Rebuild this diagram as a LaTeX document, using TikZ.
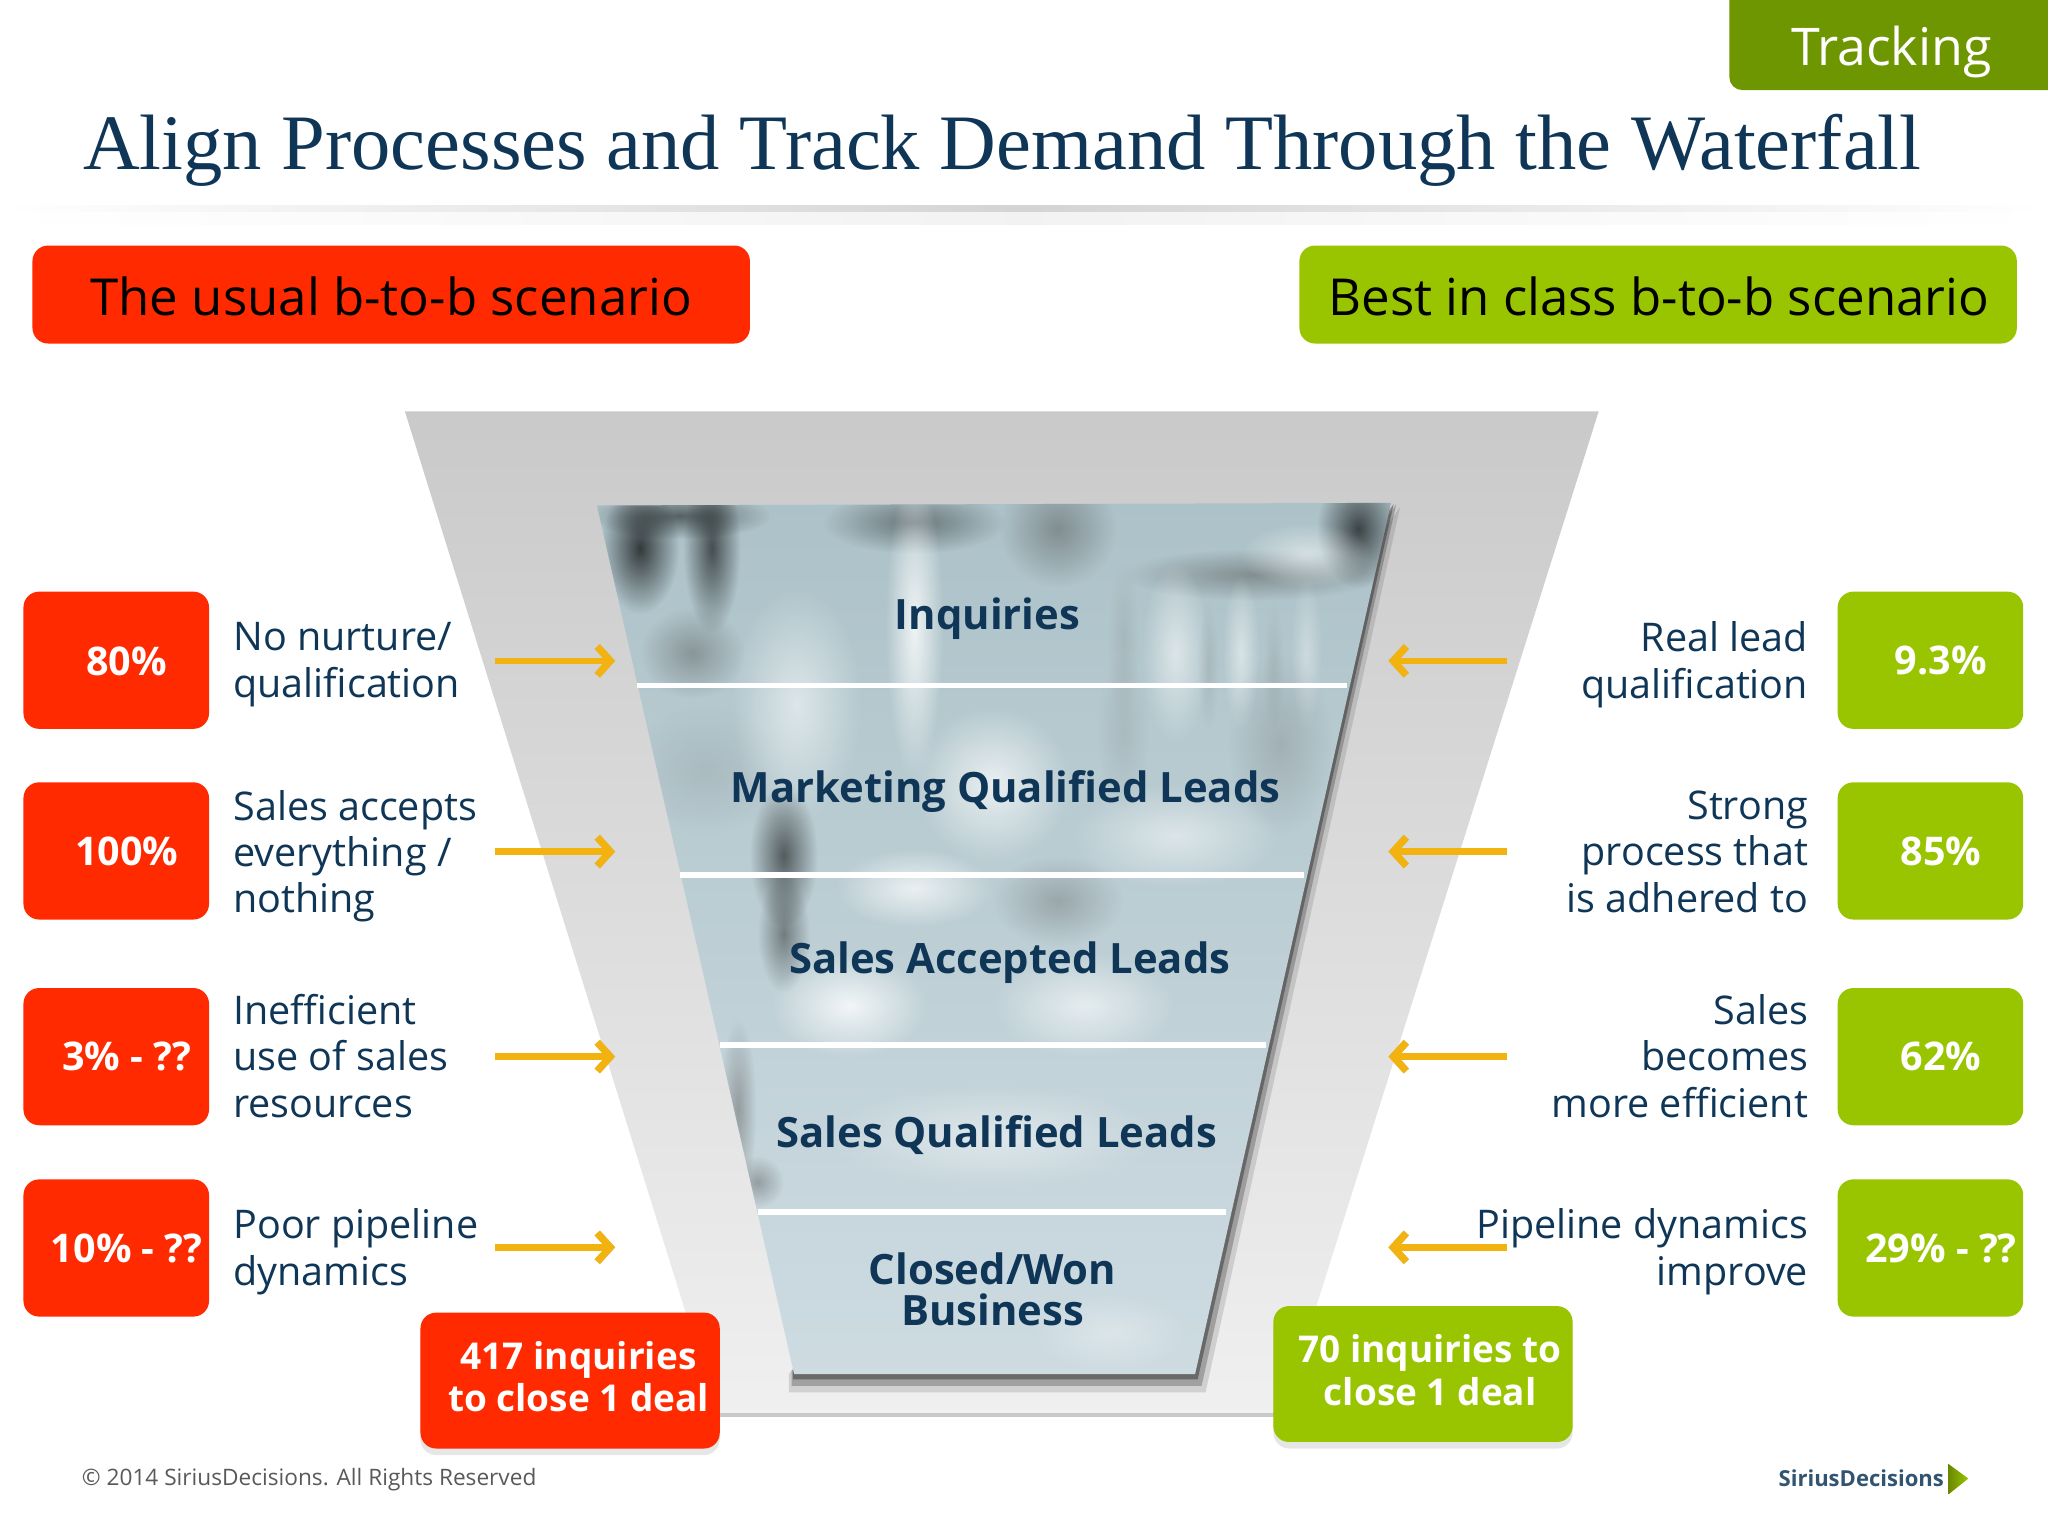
\documentclass[tikz,border=0pt]{standalone}
\usepackage{fontspec}
\setmainfont{Open Sans}
\newfontfamily\titlefont{Liberation Serif}
\usetikzlibrary{arrows.meta,shadows,fadings}

\definecolor{boxred}{HTML}{FF2A00}
\definecolor{boxgreen}{HTML}{99C400}
\definecolor{tabgreen}{HTML}{6E9600}
\definecolor{navy}{HTML}{0F3657}
\definecolor{arrowyellow}{HTML}{F2B20F}

\tikzfading[name = softblob, inner color = transparent!0, outer color = transparent!100]

\tikzset{
    softshade/.style = {drop shadow = {shadow xshift = 0pt, shadow yshift = -0.5mm, opacity = 0.2}},
    redbox/.style = {fill = boxred, rounded corners = 1.2mm},
    greenbox/.style = {fill = boxgreen, rounded corners = 1.2mm},
    pctbox/.style = {minimum width = 14.2mm, minimum height = 10.5mm, inner sep = 0pt},
    scenariobox/.style = {minimum width = 54.9mm, minimum height = 7.5mm, inner sep = 0pt},
    totalbox/.style = {minimum width = 22.9mm, minimum height = 10.4mm, inner sep = 0pt, softshade},
    pcttext/.style = {text = white, font = \fontsize{8.6}{10}\selectfont\bfseries, inner sep = 0pt},
    totaltext/.style = {text = white, font = \fontsize{8.05}{9.2}\selectfont\bfseries, inner sep = 0pt, align = center},
    scenariotext/.style = {text = black, font = \fontsize{11.1}{13}\selectfont, inner sep = 0pt},
    lefttext/.style = {text = navy, font = \fontsize{8.6}{10.1}\selectfont, anchor = west, align = left, inner sep = 0pt},
    righttext/.style = {text = navy, font = \fontsize{8.6}{10.1}\selectfont, anchor = east, align = right, inner sep = 0pt},
    stagetext/.style = {text = navy, font = \fontsize{9.1}{9}\selectfont\bfseries, align = center, inner sep = 0pt},
    flowarrow/.style = {draw = arrowyellow, line width = 0.5mm, -{Straight Barb[length = 1mm, width = 2.2mm, line width = 0.55mm]}},
    arrowshade/.style = {draw = black!22, line width = 0.5mm, -{Straight Barb[length = 1mm, width = 2.2mm, line width = 0.55mm]}, yshift = -0.3mm},
    divider/.style = {draw = white, line width = 0.4mm}
}

\begin{document}
\begin{tikzpicture}[x = 0.01cm, y = -0.01cm]
    \useasboundingbox (0, 0) rectangle (1568, 1176);

    % header
    \fill[tabgreen, rounded corners = 1mm] (1568, -20) -- (1324, -20) -- (1324, 69) -- (1590, 69) -- cycle;
    \node[text = white, font = \fontsize{11.3}{13}\selectfont, inner sep = 0pt] (tab) at (1448, 40) {Tracking};
    \node[text = navy, font = \fontsize{17.1}{20}\titlefont, anchor = west, inner sep = 0pt] (title) at (63, 115)
        {Align Processes and Track Demand Through the Waterfall};
    \shade[left color = white, right color = white, middle color = black!17] (0, 157) rectangle (1568, 163);
    \shade[left color = white, right color = white, middle color = black!5] (0, 163) rectangle (1568, 172);

    \node[redbox, scenariobox] (usual) at (299.5, 225.5) {};
    \node[scenariotext] (usualtext) at (299.5, 227) {The usual b-to-b scenario};
    \node[greenbox, scenariobox] (best) at (1269.5, 225.5) {};
    \node[scenariotext] (besttext) at (1270, 227) {Best in class b-to-b scenario};

    % outer funnel
    \shade[top color = black!21, bottom color = black!6] (310, 315) -- (1224, 315) -- (982, 1082) -- (549, 1082) -- cycle;
    \fill[black!30, opacity = 0.7] (549, 1082) rectangle (982, 1085);

    % waterfall
    \fill[black!70, opacity = 0.18] (1072, 388) -- (923, 1066) -- (604, 1066) -- (604, 1052) -- cycle;
    \fill[black!80, opacity = 0.3] (1069, 386) -- (920, 1061) -- (606, 1061) -- (606, 1050) -- cycle;
    \fill[black!80, opacity = 0.5] (1067, 386) -- (917, 1056) -- (607, 1056) -- (607, 1050) -- cycle;
    \begin{scope}
        \clip (457, 387) -- (1065, 385) -- (915, 1052) -- (608, 1052) -- cycle;
        \shade[top color = {rgb,255:red,172;green,194;blue,200}, middle color = {rgb,255:red,212;green,227;blue,231},
            bottom color = {rgb,255:red,206;green,220;blue,226}] (440, 380) rectangle (1080, 1060);
        \foreach \px/\py/\wd/\ht/\shadecol/\op in {
            490/420/30/50/black/0.7, 545/420/22/65/black/0.6, 520/395/70/18/black/0.5,
            700/400/70/24/black/0.4, 810/405/45/45/black!70/0.45, 1040/405/32/45/black/0.65,
            960/440/100/20/black!70/0.45, 1000/425/50/25/white/0.5, 530/500/40/35/black!70/0.4,
            540/590/60/50/black!60/0.15, 700/480/22/120/white/0.8, 610/540/50/90/white/0.55,
            900/500/26/70/white/0.55, 950/500/14/60/white/0.5, 1000/500/12/60/white/0.35,
            860/490/12/60/black!50/0.2, 925/510/8/50/black!50/0.2, 975/510/8/50/black!50/0.2,
            760/600/60/60/white/0.7, 980/570/40/70/black!60/0.25, 860/560/20/60/black!50/0.2,
            600/655/26/55/black/0.55, 600/715/20/45/black/0.4, 810/690/50/35/black!70/0.3,
            700/680/60/30/white/0.7, 900/640/80/40/white/0.5, 830/770/70/40/white/0.6,
            650/770/60/40/white/0.8, 565/850/14/70/black!60/0.5, 580/905/20/20/black!70/0.4,
            760/870/130/40/white/0.45, 850/1020/60/30/white/0.3}
            \fill[\shadecol, opacity = \op, path fading = softblob] (\px, \py) ellipse [x radius = \wd, y radius = \ht];
    \end{scope}
    \draw[divider] (488, 525) -- (1031, 525);
    \draw[divider] (521, 670) -- (998, 670);
    \draw[divider] (551, 800) -- (969, 800);
    \draw[divider] (580, 928) -- (939, 928);

    \node[stagetext] (inquiries) at (756, 474) {Inquiries};
    \node[stagetext] (marketing) at (770, 606) {Marketing Qualified Leads};
    \node[stagetext] (accepted) at (773, 737) {Sales Accepted Leads};
    \node[stagetext] (qualified) at (763, 869) {Sales Qualified Leads};
    \node[stagetext] (closed) at (760, 987) {Closed/Won\\Business};

    % left column
    \node[redbox, pctbox] (redA) at (89, 505.5) {};
    \node[redbox, pctbox] (redB) at (89, 651.5) {};
    \node[redbox, pctbox] (redC) at (89, 809) {};
    \node[redbox, pctbox] (redD) at (89, 955.5) {};
    \node[pcttext] (redAtext) at (97, 506) {80\%};
    \node[pcttext] (redBtext) at (97, 652) {100\%};
    \node[pcttext] (redCtext) at (97, 809) {3\% - ??};
    \node[pcttext] (redDtext) at (97, 956) {10\% - ??};
    \node[lefttext] (causeA) at (178, 509) {No nurture/\\qualification};
    \node[lefttext] (causeB) at (178, 655.5) {Sales accepts\\everything /\\nothing};
    \node[lefttext] (causeC) at (178, 808.5) {Inefficient\\use of sales\\resources};
    \node[lefttext] (causeD) at (178, 958.5) {Poor pipeline\\dynamics};

    % right column
    \node[greenbox, pctbox] (greenA) at (1478, 505.5) {};
    \node[greenbox, pctbox] (greenB) at (1478, 651.5) {};
    \node[greenbox, pctbox] (greenC) at (1478, 809) {};
    \node[greenbox, pctbox] (greenD) at (1478, 955.5) {};
    \node[pcttext] (greenAtext) at (1486, 506) {9.3\%};
    \node[pcttext] (greenBtext) at (1486, 652) {85\%};
    \node[pcttext] (greenCtext) at (1486, 809) {62\%};
    \node[pcttext] (greenDtext) at (1486, 956) {29\% - ??};

    % arrows
    \coordinate (inA) at (471, 506);
    \coordinate (inB) at (471, 652);
    \coordinate (inC) at (471, 809);
    \coordinate (inD) at (471, 955);
    \coordinate (outA) at (379, 506);
    \coordinate (outB) at (379, 652);
    \coordinate (outC) at (379, 809);
    \coordinate (outD) at (379, 955);
    \coordinate (backA) at (1063, 506);
    \coordinate (backB) at (1063, 652);
    \coordinate (backC) at (1063, 809);
    \coordinate (backD) at (1063, 955);
    \coordinate (fromA) at (1154, 506);
    \coordinate (fromB) at (1154, 652);
    \coordinate (fromC) at (1154, 809);
    \coordinate (fromD) at (1154, 955);
    \draw[arrowshade] (outA) -- (inA);
    \draw[arrowshade] (outB) -- (inB);
    \draw[arrowshade] (outC) -- (inC);
    \draw[arrowshade] (outD) -- (inD);
    \draw[arrowshade] (fromA) -- (backA);
    \draw[arrowshade] (fromB) -- (backB);
    \draw[arrowshade] (fromC) -- (backC);
    \draw[arrowshade] (fromD) -- (backD);
    \draw[flowarrow] (outA) -- (inA);
    \draw[flowarrow] (outB) -- (inB);
    \draw[flowarrow] (outC) -- (inC);
    \draw[flowarrow] (outD) -- (inD);
    \draw[flowarrow] (fromA) -- (backA);
    \draw[flowarrow] (fromB) -- (backB);
    \draw[flowarrow] (fromC) -- (backC);
    \draw[flowarrow] (fromD) -- (backD);

    \node[righttext] (gainA) at (1385, 509) {Real lead\\qualification};
    \node[righttext] (gainB) at (1385, 652) {Strong\\process that\\is adhered to};
    \node[righttext] (gainC) at (1385, 808.5) {Sales\\becomes\\more efficient};
    \node[righttext] (gainD) at (1385, 958.5) {Pipeline dynamics\\improve};

    % totals
    \node[redbox, totalbox] (redtotal) at (436.5, 1057) {};
    \node[totaltext] (redtotaltext) at (443, 1054) {417 inquiries\\to close 1 deal};
    \node[greenbox, totalbox] (greentotal) at (1089.5, 1052) {};
    \node[totaltext] (greentotaltext) at (1095, 1049) {70 inquiries to\\close 1 deal};

    % footer
    \node[text = black!65, font = \fontsize{4.93}{6}\selectfont, anchor = west, inner sep = 0pt] (copyright) at (62, 1133)
        {\textcopyright{} 2014 SiriusDecisions. All Rights Reserved};
    \node[text = navy!85, font = \fontsize{4.8}{6}\selectfont\bfseries, anchor = east, inner sep = 0pt] (logo) at (1489, 1132) {SiriusDecisions};
    \shade[left color = boxgreen!70!black, right color = boxgreen] (1492, 1121) -- (1507, 1132) -- (1492, 1144) -- cycle;
\end{tikzpicture}
\end{document}
